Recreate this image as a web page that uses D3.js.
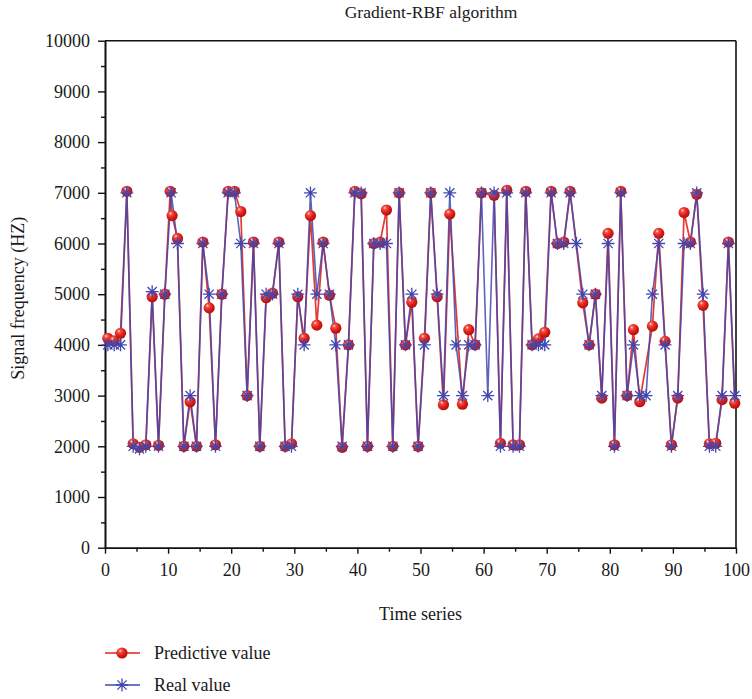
<!DOCTYPE html>
<html>
<head>
<meta charset="utf-8">
<script src="https://cdn.jsdelivr.net/npm/d3@7"></script>
<style>
  html, body { margin: 0; padding: 0; background: #fff; }
  svg { display: block; }
  text { font-family: "Liberation Serif", "DejaVu Serif", serif; fill: #1a1a1a; }
</style>
</head>
<body>
<svg id="chart" width="752" height="699"></svg>
<script>
// ---------------- data ----------------
const chartTitle = "Gradient-RBF algorithm";
const xLabel = "Time series";
const yLabel = "Signal frequency (HZ)";
const seriesNames = ["Predictive value", "Real value"];
const xTicks = [0, 10, 20, 30, 40, 50, 60, 70, 80, 90, 100];
const yTicks = [0, 1000, 2000, 3000, 4000, 5000, 6000, 7000, 8000, 9000, 10000];

// real value, one per sample slot 0..99
const realValues = [
  4000, 4000, 4000, 7000, 2000, 1950, 2000, 5050, 2000, 5000,
  7000, 6000, 2000, 3000, 2000, 6000, 5000, 2000, 5000, 7000,
  7000, 6000, 3000, 6000, 2000, 5000, 5000, 6000, 2000, 2000,
  5000, 4000, 7000, 5000, 6000, 5000, 4000, 2000, 4000, 7000,
  7000, 2000, 6000, 6000, 6000, 2000, 7000, 4000, 5000, 2000,
  4000, 7000, 5000, 3000, 7000, 4000, 3000, 4000, 4000, 7000,
  3000, 7000, 2000, 7000, 2000, 2000, 7000, 4000, 4000, 4000,
  7000, 6000, 6000, 7000, 6000, 5000, 4000, 5000, 3000, 6000,
  2000, 7000, 3000, 4000, 3000, 3000, 5000, 6000, 4000, 2000,
  3000, 6000, 6000, 7000, 5000, 2000, 2000, 3000, 6000, 3000
];

// predictive value: sample slot and value
const predSlots = [
  0, 1, 2, 3, 4, 5, 6, 7, 8, 9,
  9.85, 10.15, 11, 12, 13, 14, 15, 16, 17, 18, 19,
  20, 21, 22, 23, 24, 25, 26, 27, 28, 29,
  30, 31, 32, 33, 34, 35, 36, 37, 38, 39,
  40, 41, 42, 43, 44, 45, 46, 47, 48, 49,
  50, 51, 52, 53, 54, 56, 57, 58, 59,
  61, 62, 63, 64, 65, 66, 67, 68, 69,
  70, 71, 72, 73, 75, 76, 77, 78, 79,
  80, 81, 82, 83, 84, 86, 87, 88, 89,
  90, 91, 92, 93, 94, 95, 96, 97, 98, 99
];
const predValues = [
  4130, 4080, 4230, 7030, 2050, 1980, 2030, 4950, 2020, 5000,
  7030, 6550, 6100, 2000, 2880, 2000, 6030, 4730, 2030, 5000, 7030,
  7030, 6630, 3000, 6030, 2000, 4930, 5020, 6030, 2000, 2050,
  4950, 4130, 6550, 4390, 6030, 4980, 4330, 1980, 4000, 7030,
  6980, 2000, 6000, 6030, 6660, 2000, 7000, 4000, 4840, 2000,
  4130, 7000, 4950, 2820, 6580, 2830, 4300, 4000, 7000,
  6950, 2060, 7050, 2030, 2030, 7030, 4000, 4120, 4250,
  7030, 6000, 6030, 7030, 4830, 4000, 5000, 2950, 6200,
  2030, 7030, 3000, 4300, 2880, 4370, 6200, 4070, 2030,
  2950, 6610, 6030, 6970, 4780, 2050, 2060, 2920, 6030, 2850
];

// ---------------- layout ----------------
const svg = d3.select("#chart");
const plotLeft = 105, plotRight = 736, plotTop = 40.7, plotBottom = 547.7;
const redCol = "#e2231c", blueCol = "#4048b0";
const serif = '"Liberation Serif", "DejaVu Serif", serif';

const x = d3.scaleLinear().domain([0, 100]).range([plotLeft, plotRight]);
const y = d3.scaleLinear().domain([0, 10000]).range([plotBottom, plotTop]);
// sample slot -> time position on the axis
const slotToTime = d3.scaleLinear().domain([0, 99]).range([0.45, 99.8]);

const realData = realValues.map((v, i) => ({ t: slotToTime(i), v }));
const predData = predValues.map((v, i) => ({ t: slotToTime(predSlots[i]), v }));

// gradient for spheres
const defs = svg.append("defs");
const grad = defs.append("radialGradient").attr("id", "sphere")
  .attr("cx", "38%").attr("cy", "35%").attr("r", "65%").attr("fx", "35%").attr("fy", "30%");
grad.append("stop").attr("offset", "0%").attr("stop-color", "#ffe4de");
grad.append("stop").attr("offset", "22%").attr("stop-color", "#f3534a");
grad.append("stop").attr("offset", "60%").attr("stop-color", "#df1f17");
grad.append("stop").attr("offset", "100%").attr("stop-color", "#b2100b");

// ---------------- axes ----------------
const fontSize = 18;
const fmt = d3.format("d");
const xAxis = d3.axisBottom(x).tickValues(xTicks).tickFormat(fmt).tickSize(6).tickPadding(6).tickSizeOuter(0);
const gx = svg.append("g").attr("transform", `translate(0,${plotBottom})`).call(xAxis);
const xMinor = d3.axisBottom(x).tickValues(d3.range(5, 100, 10)).tickSize(4).tickFormat("").tickSizeOuter(0);
svg.append("g").attr("transform", `translate(0,${plotBottom})`).call(xMinor);

const yAxis = d3.axisLeft(y).tickValues(yTicks).tickFormat(fmt).tickSize(7).tickPadding(8).tickSizeOuter(0);
const gy = svg.append("g").attr("transform", `translate(${plotLeft},0)`).call(yAxis);
const yMinor = d3.axisLeft(y).tickValues(d3.range(500, 10000, 1000)).tickSize(4).tickFormat("").tickSizeOuter(0);
svg.append("g").attr("transform", `translate(${plotLeft},0)`).call(yMinor);

[gx, gy].forEach(g => g.attr("font-family", serif).attr("font-size", fontSize));
svg.selectAll(".domain").attr("stroke", "#111").attr("stroke-width", 1.6);
svg.selectAll(".tick line").attr("stroke", "#111").attr("stroke-width", 1.4);
svg.selectAll(".tick text").attr("font-family", serif).style("font-family", serif)
  .style("font-size", fontSize + "px").attr("fill", "#1a1a1a");
gx.selectAll(".tick text").attr("dy", "0.9em");

// frame top and right
svg.append("line").attr("x1", plotLeft).attr("x2", plotRight).attr("y1", plotTop).attr("y2", plotTop)
  .attr("stroke", "#111").attr("stroke-width", 1.6);
svg.append("line").attr("x1", plotRight).attr("x2", plotRight).attr("y1", plotTop).attr("y2", plotBottom)
  .attr("stroke", "#111").attr("stroke-width", 1.6);

// ---------------- lines & markers ----------------
const line = d3.line().x(d => x(d.t)).y(d => y(d.v));
svg.append("path").datum(predData).attr("d", line)
  .attr("fill", "none").attr("stroke", redCol).attr("stroke-width", 1.7).attr("stroke-opacity", 0.9);
svg.append("path").datum(realData).attr("d", line)
  .attr("fill", "none").attr("stroke", blueCol).attr("stroke-width", 1.6).attr("stroke-opacity", 0.85);

svg.append("g").selectAll("circle").data(predData).join("circle")
  .attr("cx", d => x(d.t)).attr("cy", d => y(d.v)).attr("r", 5.6)
  .attr("fill", "url(#sphere)");

function starPath(s) {
  const d = s * 0.72;
  return `M${-s},0L${s},0M0,${-s}L0,${s}M${-d},${-d}L${d},${d}M${-d},${d}L${d},${-d}`;
}
svg.append("g").selectAll("path").data(realData).join("path")
  .attr("transform", d => `translate(${x(d.t)},${y(d.v)})`)
  .attr("d", starPath(6.4))
  .attr("fill", "none").attr("stroke", blueCol).attr("stroke-width", 1.3);

// ---------------- texts ----------------
svg.append("text").attr("x", 431).attr("y", 18).attr("text-anchor", "middle")
  .style("font-size", "17.5px").text(chartTitle);
svg.append("text").attr("x", (plotLeft + plotRight) / 2).attr("y", 620).attr("text-anchor", "middle")
  .style("font-size", fontSize + "px").text(xLabel);
svg.append("text").attr("transform", `translate(24,${(plotTop + plotBottom) / 2 + 4}) rotate(-90)`)
  .attr("text-anchor", "middle").style("font-size", fontSize + "px").text(yLabel);

// ---------------- legend ----------------
const legY = [653, 685];
const lg = svg.append("g");
lg.append("line").attr("x1", 105).attr("x2", 140).attr("y1", legY[0]).attr("y2", legY[0])
  .attr("stroke", redCol).attr("stroke-width", 1.6);
lg.append("circle").attr("cx", 122).attr("cy", legY[0]).attr("r", 5.6).attr("fill", "url(#sphere)");
lg.append("line").attr("x1", 105).attr("x2", 140).attr("y1", legY[1]).attr("y2", legY[1])
  .attr("stroke", blueCol).attr("stroke-width", 1.6);
lg.append("path").attr("transform", `translate(122,${legY[1]})`).attr("d", starPath(6.4))
  .attr("fill", "none").attr("stroke", blueCol).attr("stroke-width", 1.3);
seriesNames.forEach((n, i) => {
  lg.append("text").attr("x", 154).attr("y", legY[i]).attr("dy", "0.33em")
    .style("font-size", fontSize + "px").text(n);
});
</script>
</body>
</html>
